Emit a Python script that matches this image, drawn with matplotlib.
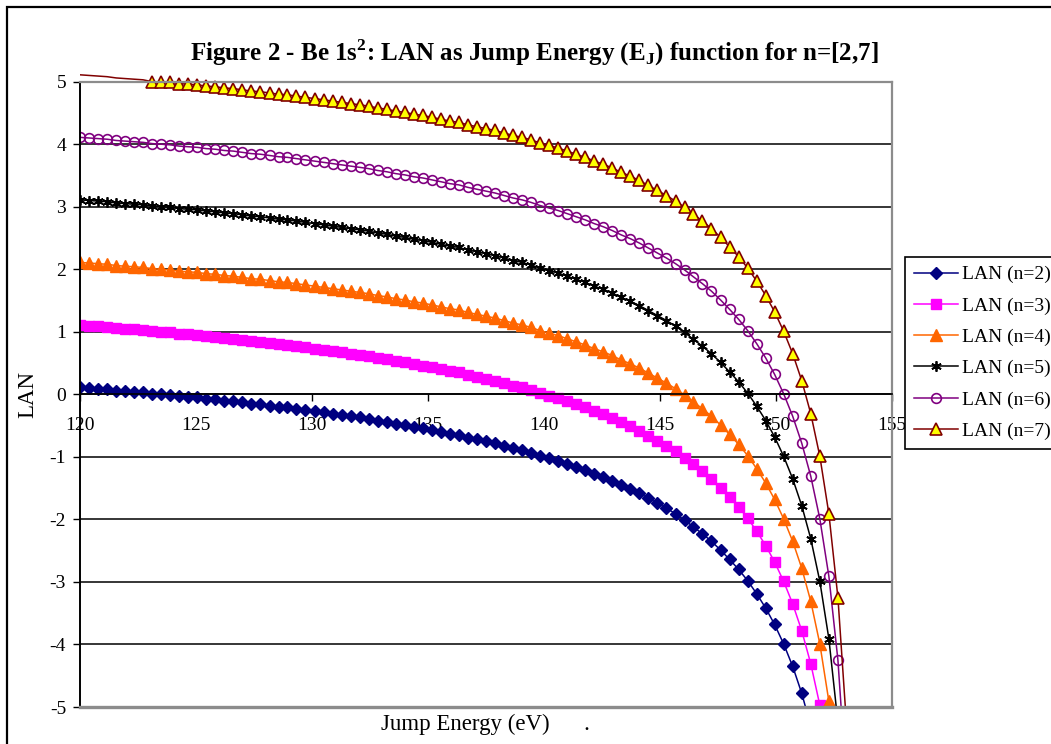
import matplotlib
matplotlib.use("Agg")
import matplotlib.pyplot as plt
from matplotlib.patches import Rectangle

# jump energy grid (eV), shared by all series
jump_energy = [
    120.00, 120.39, 120.78, 121.17, 121.56, 121.94, 122.33, 122.72, 123.11, 123.50,
    123.89, 124.28, 124.67, 125.06, 125.44, 125.83, 126.22, 126.61, 127.00, 127.39,
    127.78, 128.17, 128.56, 128.94, 129.33, 129.72, 130.11, 130.50, 130.89, 131.28,
    131.67, 132.06, 132.44, 132.83, 133.22, 133.61, 134.00, 134.39, 134.78, 135.17,
    135.56, 135.94, 136.33, 136.72, 137.11, 137.50, 137.89, 138.28, 138.67, 139.06,
    139.44, 139.83, 140.22, 140.61, 141.00, 141.39, 141.78, 142.17, 142.56, 142.94,
    143.33, 143.72, 144.11, 144.50, 144.89, 145.28, 145.67, 146.06, 146.44, 146.83,
    147.22, 147.61, 148.00, 148.39, 148.78, 149.17, 149.56, 149.94, 150.33, 150.72,
    151.11, 151.50, 151.89, 152.28, 152.67, 153.06,
]

lan_n2 = [
    0.11, 0.10, 0.09, 0.08, 0.06, 0.05, 0.04, 0.03, 0.01, 0.00,
    -0.01, -0.03, -0.04, -0.05, -0.07, -0.08, -0.10, -0.11, -0.13, -0.15,
    -0.16, -0.18, -0.20, -0.21, -0.23, -0.25, -0.27, -0.29, -0.31, -0.33,
    -0.35, -0.37, -0.39, -0.42, -0.44, -0.47, -0.49, -0.52, -0.54, -0.57,
    -0.60, -0.63, -0.65, -0.69, -0.72, -0.75, -0.78, -0.82, -0.86, -0.89,
    -0.93, -0.98, -1.02, -1.06, -1.11, -1.16, -1.21, -1.27, -1.32, -1.38,
    -1.45, -1.51, -1.58, -1.66, -1.74, -1.82, -1.91, -2.01, -2.12, -2.23,
    -2.35, -2.49, -2.64, -2.80, -2.98, -3.19, -3.42, -3.68, -3.99, -4.35,
    -4.78, -5.31,
]
lan_n3 = [
    1.11, 1.10, 1.09, 1.08, 1.06, 1.05, 1.04, 1.03, 1.01, 1.00,
    0.99, 0.97, 0.96, 0.95, 0.93, 0.92, 0.90, 0.89, 0.87, 0.85,
    0.84, 0.82, 0.80, 0.79, 0.77, 0.75, 0.73, 0.71, 0.69, 0.67,
    0.65, 0.63, 0.61, 0.58, 0.56, 0.53, 0.51, 0.48, 0.46, 0.43,
    0.40, 0.37, 0.35, 0.31, 0.28, 0.25, 0.22, 0.18, 0.14, 0.11,
    0.07, 0.02, -0.02, -0.06, -0.11, -0.16, -0.21, -0.27, -0.32, -0.38,
    -0.45, -0.51, -0.58, -0.66, -0.74, -0.82, -0.91, -1.01, -1.12, -1.23,
    -1.35, -1.49, -1.64, -1.80, -1.98, -2.19, -2.42, -2.68, -2.99, -3.35,
    -3.78, -4.31, -4.97,
]
lan_n4 = [
    2.11, 2.10, 2.09, 2.08, 2.06, 2.05, 2.04, 2.03, 2.01, 2.00,
    1.99, 1.97, 1.96, 1.95, 1.93, 1.92, 1.90, 1.89, 1.87, 1.85,
    1.84, 1.82, 1.80, 1.79, 1.77, 1.75, 1.73, 1.71, 1.69, 1.67,
    1.65, 1.63, 1.61, 1.58, 1.56, 1.53, 1.51, 1.48, 1.46, 1.43,
    1.40, 1.37, 1.35, 1.31, 1.28, 1.25, 1.22, 1.18, 1.14, 1.11,
    1.07, 1.02, 0.98, 0.94, 0.89, 0.84, 0.79, 0.73, 0.68, 0.62,
    0.55, 0.49, 0.42, 0.34, 0.26, 0.18, 0.09, -0.01, -0.12, -0.23,
    -0.35, -0.49, -0.64, -0.80, -0.98, -1.19, -1.42, -1.68, -1.99, -2.35,
    -2.78, -3.31, -3.99, -4.91,
]
lan_n5 = [
    3.11, 3.10, 3.09, 3.08, 3.06, 3.05, 3.04, 3.03, 3.01, 3.00,
    2.99, 2.97, 2.96, 2.95, 2.93, 2.92, 2.90, 2.89, 2.87, 2.85,
    2.84, 2.82, 2.80, 2.79, 2.77, 2.75, 2.73, 2.71, 2.69, 2.67,
    2.65, 2.63, 2.61, 2.58, 2.56, 2.53, 2.51, 2.48, 2.46, 2.43,
    2.40, 2.37, 2.35, 2.31, 2.28, 2.25, 2.22, 2.18, 2.14, 2.11,
    2.07, 2.02, 1.98, 1.94, 1.89, 1.84, 1.79, 1.73, 1.68, 1.62,
    1.55, 1.49, 1.42, 1.34, 1.26, 1.18, 1.09, 0.99, 0.88, 0.77,
    0.65, 0.51, 0.36, 0.20, 0.02, -0.19, -0.42, -0.68, -0.99, -1.35,
    -1.78, -2.31, -2.99, -3.91, -5.25,
]
lan_n6 = [
    4.11, 4.10, 4.09, 4.08, 4.06, 4.05, 4.04, 4.03, 4.01, 4.00,
    3.99, 3.97, 3.96, 3.95, 3.93, 3.92, 3.90, 3.89, 3.87, 3.85,
    3.84, 3.82, 3.80, 3.79, 3.77, 3.75, 3.73, 3.71, 3.69, 3.67,
    3.65, 3.63, 3.61, 3.58, 3.56, 3.53, 3.51, 3.48, 3.46, 3.43,
    3.40, 3.37, 3.35, 3.31, 3.28, 3.25, 3.22, 3.18, 3.14, 3.11,
    3.07, 3.02, 2.98, 2.94, 2.89, 2.84, 2.79, 2.73, 2.68, 2.62,
    2.55, 2.49, 2.42, 2.34, 2.26, 2.18, 2.09, 1.99, 1.88, 1.77,
    1.65, 1.51, 1.36, 1.20, 1.02, 0.81, 0.58, 0.32, 0.01, -0.35,
    -0.78, -1.31, -1.99, -2.91, -4.25, -6.39,
]
lan_n7 = [
    5.11, 5.10, 5.09, 5.08, 5.06, 5.05, 5.04, 5.03, 5.00, 4.99,
    4.99, 4.97, 4.96, 4.95, 4.93, 4.92, 4.90, 4.89, 4.87, 4.85,
    4.84, 4.82, 4.80, 4.79, 4.77, 4.75, 4.73, 4.71, 4.69, 4.67,
    4.65, 4.63, 4.61, 4.58, 4.56, 4.53, 4.51, 4.48, 4.46, 4.43,
    4.40, 4.37, 4.35, 4.31, 4.28, 4.25, 4.22, 4.18, 4.14, 4.11,
    4.07, 4.02, 3.98, 3.94, 3.89, 3.84, 3.79, 3.73, 3.68, 3.62,
    3.55, 3.49, 3.42, 3.34, 3.26, 3.18, 3.09, 2.99, 2.88, 2.77,
    2.65, 2.51, 2.36, 2.20, 2.02, 1.81, 1.58, 1.32, 1.01, 0.65,
    0.22, -0.31, -0.99, -1.91, -3.25, -5.39,
]

labels = ["LAN (n=2)", "LAN (n=3)", "LAN (n=4)", "LAN (n=5)", "LAN (n=6)", "LAN (n=7)"]
x_ticks = [120, 125, 130, 135, 140, 145, 150, 155]
y_ticks = [-5, -4, -3, -2, -1, 0, 1, 2, 3, 4, 5]

plt.rcParams["font.family"] = ["Liberation Serif", "DejaVu Serif"]
plt.rcParams["axes.unicode_minus"] = False
plt.rcParams["mathtext.fontset"] = "custom"
plt.rcParams["mathtext.rm"] = "Liberation Serif"
plt.rcParams["mathtext.bf"] = "Liberation Serif:bold"

fig = plt.figure(figsize=(10.51, 7.44), dpi=100)
ax = fig.add_axes([0.0761, 0.0497, 0.7726, 0.8405])

styles = [
    dict(color="#000080", marker="D", ms=6.5, mfc="#000080", mec="#000080"),
    dict(color="#FF00FF", marker="s", ms=6.5, mfc="#FF00FF", mec="#FF00FF"),
    dict(color="#FF6600", marker="^", ms=8, mfc="#FF6600", mec="#FF6600"),
    dict(color="black", marker=(6, 2, 0), ms=7.5, mew=1.3, mec="black"),
    dict(color="#800080", marker="o", ms=7, mfc="none", mec="#800080", mew=1.2),
    dict(color="#800000", marker="^", ms=8.5, mfc="#FFFF00", mec="#800000", mew=1.2),
]

all_series = [lan_n2, lan_n3, lan_n4, lan_n5, lan_n6, lan_n7]
for vals, lab, st in zip(all_series, labels, styles):
    xs = jump_energy[:len(vals)]
    # hide markers above the top of the plot area (n=7 start)
    show = [v <= 5.0 for v in vals]
    line, = ax.plot(xs, vals, lw=1.1, label=lab, markevery=show, **st)
    # Excel lets the line run a little above the plot area
    clip = Rectangle((0, 0), 1, 1.03, transform=ax.transAxes)
    line.set_clip_path(clip)

ax.set_xlim(120, 155)
ax.set_ylim(-5, 5)
ax.set_xticks(x_ticks)
ax.set_yticks(y_ticks)

ax.spines["bottom"].set_position(("data", 0))
ax.spines["bottom"].set_color("black")
ax.spines["bottom"].set_linewidth(1.2)
ax.spines["left"].set_color("black")
ax.spines["left"].set_linewidth(1.4)
for s in ["top", "right"]:
    ax.spines[s].set_color("#8c8c8c")
    ax.spines[s].set_linewidth(1.6)
ax.axhline(-5, color="#8c8c8c", lw=2.4, zorder=2.6, clip_on=False)

ax.set_axisbelow(True)
ax.yaxis.grid(True, color="black", lw=1.1)
ax.tick_params(axis="both", direction="out", length=5, width=1, labelsize=14, color="black")
ax.tick_params(axis="x", pad=11)
ax.tick_params(axis="y", pad=5)

fig.text(0.508, 0.919,
         r"Figure 2 - Be 1s$^{\mathbf{2}}$: LAN as Jump Energy (E$_{\mathbf{J}}$) function for n=[2,7]",
         ha="center", va="baseline", fontsize=18, fontweight="bold")
fig.text(381 / 1051, 1 - 730 / 744, "Jump Energy (eV)      .", ha="left", va="baseline", fontsize=16.5)
fig.text(28 / 1051, 1 - 394 / 744, "LAN", rotation=90, ha="center", va="center", fontsize=16.5)

leg = ax.legend(loc="upper left", bbox_to_anchor=(905 / 1051, 1 - 257 / 744),
                bbox_transform=fig.transFigure, fancybox=False, edgecolor="black",
                fontsize=14, handlelength=2.3, handletextpad=0.2, labelspacing=0.7,
                borderpad=0.45, borderaxespad=0, numpoints=1, framealpha=1)
leg.get_frame().set_linewidth(1.2)

# outer chart border (only left/top edges fall inside the image)
fig.add_artist(Rectangle((7 / 1051, -0.1), 1.2, 1.1 - 7 / 744, transform=fig.transFigure,
                         fill=False, edgecolor="black", lw=1.6))

fig.savefig("out.png", dpi=100)
